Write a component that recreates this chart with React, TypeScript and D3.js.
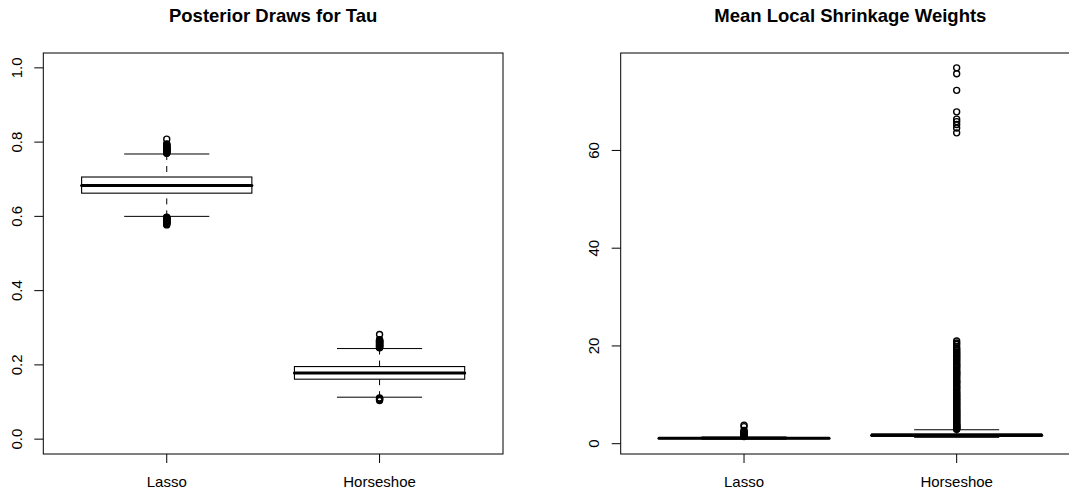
import * as d3 from "d3";

// groups shown on both panels
const groups = ["Lasso", "Horseshoe"];

// Posterior draws for tau: [lower whisker, q1, median, q3, upper whisker]
const tauLasso = [0.6, 0.6625, 0.683, 0.706, 0.768];
const tauHorseshoe = [0.113, 0.1615, 0.178, 0.1955, 0.244];
const tauLassoOut = [
  0.808, 0.795, 0.794, 0.792, 0.791, 0.789, 0.788, 0.787, 0.786, 0.784, 0.783,
  0.782, 0.781, 0.78, 0.779, 0.778, 0.777, 0.776, 0.775, 0.774, 0.773, 0.772,
  0.771, 0.77,
  0.598, 0.597, 0.596, 0.595, 0.594, 0.593, 0.592, 0.591, 0.589, 0.588, 0.587,
  0.586, 0.585, 0.584, 0.583, 0.582, 0.581, 0.579, 0.577,
];
const tauHorseshoeOut = [
  0.282, 0.268, 0.267, 0.266, 0.265, 0.264, 0.263, 0.262, 0.261, 0.26, 0.259,
  0.258, 0.257, 0.256, 0.255, 0.254, 0.253, 0.252, 0.251, 0.25, 0.249, 0.248,
  0.247, 0.246, 0.111, 0.109, 0.108, 0.106, 0.104,
];
const tauTicks = [0, 0.2, 0.4, 0.6, 0.8, 1.0];

// Mean local shrinkage weights
const wLasso = [0.93, 1.02, 1.12, 1.22, 1.38];
const wHorseshoe = [1.3, 1.5, 1.72, 2.0, 2.85];
const wLassoOut = [3.8, 3.5, 2.7, 2.5, 2.35, 2.2, 2.05, 1.95, 1.85, 1.75, 1.65, 1.55, 1.45];
const wHorseshoeOut = [
  76.9, 75.7, 72.3, 67.9, 66.4, 65.9, 65.3, 64.6, 63.6,
  21.0, 20.6, 20.3, 19.8, 19.5, 19.2, 19.0, 18.7, 18.5, 18.3, 18.0, 17.9,
  17.6, 17.4, 17.2, 16.9, 16.7, 16.4, 16.2, 16.0, 15.8, 15.6, 15.3, 15.1,
  14.8, 14.6, 14.5, 14.3, 14.1, 13.9, 13.7, 13.4, 13.2, 12.9, 12.7, 12.6,
  12.4, 12.2, 11.9, 11.7, 11.5, 11.3, 11.1, 10.8, 10.6, 10.4, 10.2, 10.0,
  9.8, 9.7, 9.5, 9.3, 9.1, 9.0, 8.8, 8.6, 8.4, 8.3, 8.1, 7.9, 7.7, 7.6,
  7.4, 7.2, 7.0, 6.9, 6.7, 6.6, 6.4, 6.3, 6.1, 6.0, 5.8, 5.7, 5.5, 5.4,
  5.2, 5.1, 4.9, 4.8, 4.6, 4.5, 4.3, 4.2, 4.0, 3.9, 3.8, 3.7, 3.6, 3.5,
  3.4, 3.3, 3.2, 3.1, 3.0, 2.95,
];
const wTicks = [0, 20, 40, 60];

const font = "'Liberation Sans', Arial, Helvetica, sans-serif";

type PanelProps = {
  title: string;
  left: number;
  right: number;
  stats: number[][];
  outliers: number[][];
  yRange: [number, number];
  ticks: number[];
  fmt: (v: number) => string;
};

function BoxPanel({ title, left, right, stats, outliers, yRange, ticks, fmt }: PanelProps) {
  const top = 53;
  const bottom = 454;
  const ext = (yRange[1] - yRange[0]) * 0.04;
  const x = d3.scaleLinear().domain([0.42, 2.58]).range([left, right]);
  const y = d3
    .scaleLinear()
    .domain([yRange[0] - ext, yRange[1] + ext])
    .range([bottom, top]);
  const boxHalf = x(1.4) - x(1);
  const capHalf = boxHalf / 2;

  return (
    <g>
      <text
        x={(left + right) / 2}
        y={22}
        textAnchor="middle"
        fontFamily={font}
        fontWeight="bold"
        fontSize={18.5}
      >
        {title}
      </text>

      {stats.map((s, i) => {
        const cx = x(i + 1);
        return (
          <g key={i} stroke="#000" fill="none">
            {/* whiskers */}
            <line x1={cx} x2={cx} y1={y(s[4])} y2={y(s[3])} strokeDasharray="6,6" />
            <line x1={cx} x2={cx} y1={y(s[0])} y2={y(s[1])} strokeDasharray="6,6" />
            <line x1={cx - capHalf} x2={cx + capHalf} y1={y(s[4])} y2={y(s[4])} />
            <line x1={cx - capHalf} x2={cx + capHalf} y1={y(s[0])} y2={y(s[0])} />
            <rect
              x={cx - boxHalf}
              y={y(s[3])}
              width={boxHalf * 2}
              height={y(s[1]) - y(s[3])}
              fill="#fff"
              strokeWidth={1.1}
            />
            <line
              x1={cx - boxHalf}
              x2={cx + boxHalf}
              y1={y(s[2])}
              y2={y(s[2])}
              strokeWidth={3}
              strokeLinecap="round"
            />
            {outliers[i].map((v, j) => (
              <circle key={j} cx={cx} cy={y(v)} r={3} strokeWidth={1.4} />
            ))}
          </g>
        );
      })}

      {/* frame */}
      <rect
        x={left}
        y={top}
        width={right - left}
        height={bottom - top}
        fill="none"
        stroke="#000"
        strokeWidth={1}
      />

      {/* y axis */}
      {ticks.map((t) => (
        <g key={t}>
          <line x1={left - 9} x2={left} y1={y(t)} y2={y(t)} stroke="#000" />
          <text
            transform={`translate(${left - 21.5},${y(t)}) rotate(-90)`}
            textAnchor="middle"
            fontFamily={font}
            fontSize={15}
          >
            {fmt(t)}
          </text>
        </g>
      ))}

      {/* x axis */}
      {groups.map((g, i) => (
        <g key={g}>
          <line x1={x(i + 1)} x2={x(i + 1)} y1={bottom} y2={bottom + 9} stroke="#000" />
          <text
            x={x(i + 1)}
            y={bottom + 33}
            textAnchor="middle"
            fontFamily={font}
            fontSize={15}
          >
            {g}
          </text>
        </g>
      ))}
    </g>
  );
}

export default function App() {
  const wAll = [...wLasso, ...wHorseshoe, ...wLassoOut, ...wHorseshoeOut];
  return (
    <svg
      width={1069}
      height={491}
      style={{ position: "absolute", left: 0, top: 0, background: "#fff" }}
    >
      <BoxPanel
        title="Posterior Draws for Tau"
        left={43.3}
        right={503}
        stats={[tauLasso, tauHorseshoe]}
        outliers={[tauLassoOut, tauHorseshoeOut]}
        yRange={[0, 1]}
        ticks={tauTicks}
        fmt={d3.format(".1f")}
      />
      <BoxPanel
        title="Mean Local Shrinkage Weights"
        left={620.7}
        right={1080}
        stats={[wLasso, wHorseshoe]}
        outliers={[wLassoOut, wHorseshoeOut]}
        yRange={[d3.min(wAll)!, d3.max(wAll)!]}
        ticks={wTicks}
        fmt={(v) => String(v)}
      />
    </svg>
  );
}
